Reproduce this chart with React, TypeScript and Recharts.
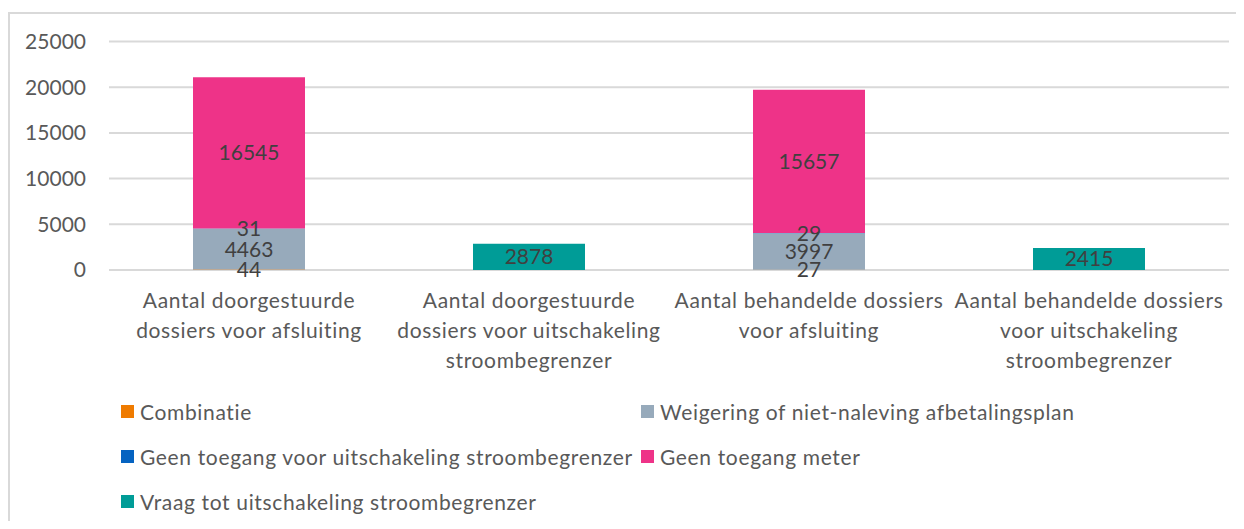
import { BarChart, Bar, XAxis, YAxis, CartesianGrid, LabelList } from "recharts";

const categories = [
  "Aantal doorgestuurde\ndossiers voor afsluiting",
  "Aantal doorgestuurde\ndossiers voor uitschakeling\nstroombegrenzer",
  "Aantal behandelde dossiers\nvoor afsluiting",
  "Aantal behandelde dossiers\nvoor uitschakeling\nstroombegrenzer",
];

const combinatie = [44, 0, 27, 0];
const weigering = [4463, 0, 3997, 0];
const geenToegangStroombegrenzer = [31, 0, 29, 0];
const geenToegangMeter = [16545, 0, 15657, 0];
const vraagUitschakeling = [0, 2878, 0, 2415];

const yTicks = [0, 5000, 10000, 15000, 20000, 25000];

const SERIES = [
  { key: "combinatie", name: "Combinatie", color: "#EF7B00", values: combinatie },
  { key: "weigering", name: "Weigering of niet-naleving afbetalingsplan", color: "#97AABB", values: weigering },
  { key: "geenStroom", name: "Geen toegang voor uitschakeling stroombegrenzer", color: "#0563C1", values: geenToegangStroombegrenzer },
  { key: "geenMeter", name: "Geen toegang meter", color: "#EE3388", values: geenToegangMeter },
  { key: "vraag", name: "Vraag tot uitschakeling stroombegrenzer", color: "#009C97", values: vraagUitschakeling },
];

const data = categories.map((name, i) => {
  const row: Record<string, string | number> = { name };
  SERIES.forEach((s) => {
    row[s.key] = s.values[i];
  });
  return row;
});

const FONT = "Lato, 'Open Sans', sans-serif";

function CategoryTick({ x, y, payload }: any) {
  const lines = String(payload.value).split("\n");
  return (
    <text
      x={x}
      y={y + 30}
      textAnchor="middle"
      fill="#595959"
      fontSize={21}
      fontFamily={FONT}
      letterSpacing={0.65}
    >
      {lines.map((line, i) => (
        <tspan key={i} x={x} dy={i === 0 ? 0 : 30}>
          {line}
        </tspan>
      ))}
    </text>
  );
}

// legend slots: [column, row]
const LEGEND_SLOTS = [
  [0, 0],
  [1, 0],
  [0, 1],
  [1, 1],
  [0, 2],
];

function ChartLegend() {
  return (
    <>
      {SERIES.map((s, i) => {
        const [col, row] = LEGEND_SLOTS[i];
        return (
          <div
            key={s.key}
            style={{
              position: "absolute",
              left: col === 0 ? 113 : 633,
              top: 388 + row * 45,
              display: "flex",
              alignItems: "center",
              height: 30,
              whiteSpace: "nowrap",
              fontFamily: FONT,
              fontSize: 21,
              letterSpacing: 0.65,
              color: "#595959",
            }}
          >
            <span style={{ width: 13, height: 13, background: s.color, marginRight: 6 }} />
            <span>{s.name}</span>
          </div>
        );
      })}
    </>
  );
}

export default function App() {
  return (
    <div style={{ position: "relative", width: 1236, height: 513, overflow: "hidden" }}>
      <div
        style={{
          position: "absolute",
          top: 4,
          left: 0,
          right: 0,
          bottom: 0,
          borderTop: "2px solid #d9d9d9",
          borderLeft: "2px solid #d9d9d9",
        }}
      />
      <BarChart
        width={1236}
        height={513}
        data={data}
        margin={{ top: 33.5, right: 15, left: 0, bottom: 191 }}
        barCategoryGap="30%"
      >
        <CartesianGrid vertical={false} stroke="#d9d9d9" strokeWidth={2} />
        <YAxis
          width={101}
          domain={[0, 25000]}
          ticks={yTicks}
          axisLine={false}
          tickLine={false}
          tickSize={0}
          tickMargin={23}
          tick={{ fill: "#595959", fontSize: 21, fontFamily: FONT }}
        />
        <XAxis
          dataKey="name"
          height={60}
          axisLine={false}
          tickLine={false}
          interval={0}
          tick={<CategoryTick />}
        />
        {SERIES.map((s) => (
          <Bar key={s.key} dataKey={s.key} name={s.name} stackId="a" fill={s.color} isAnimationActive={false}>
            <LabelList
              dataKey={s.key}
              position="center"
              fill="#404040"
              fontSize={21}
              fontFamily={FONT}
              formatter={(v: any) => (v ? v : "")}
            />
          </Bar>
        ))}
      </BarChart>
      <ChartLegend />
    </div>
  );
}
